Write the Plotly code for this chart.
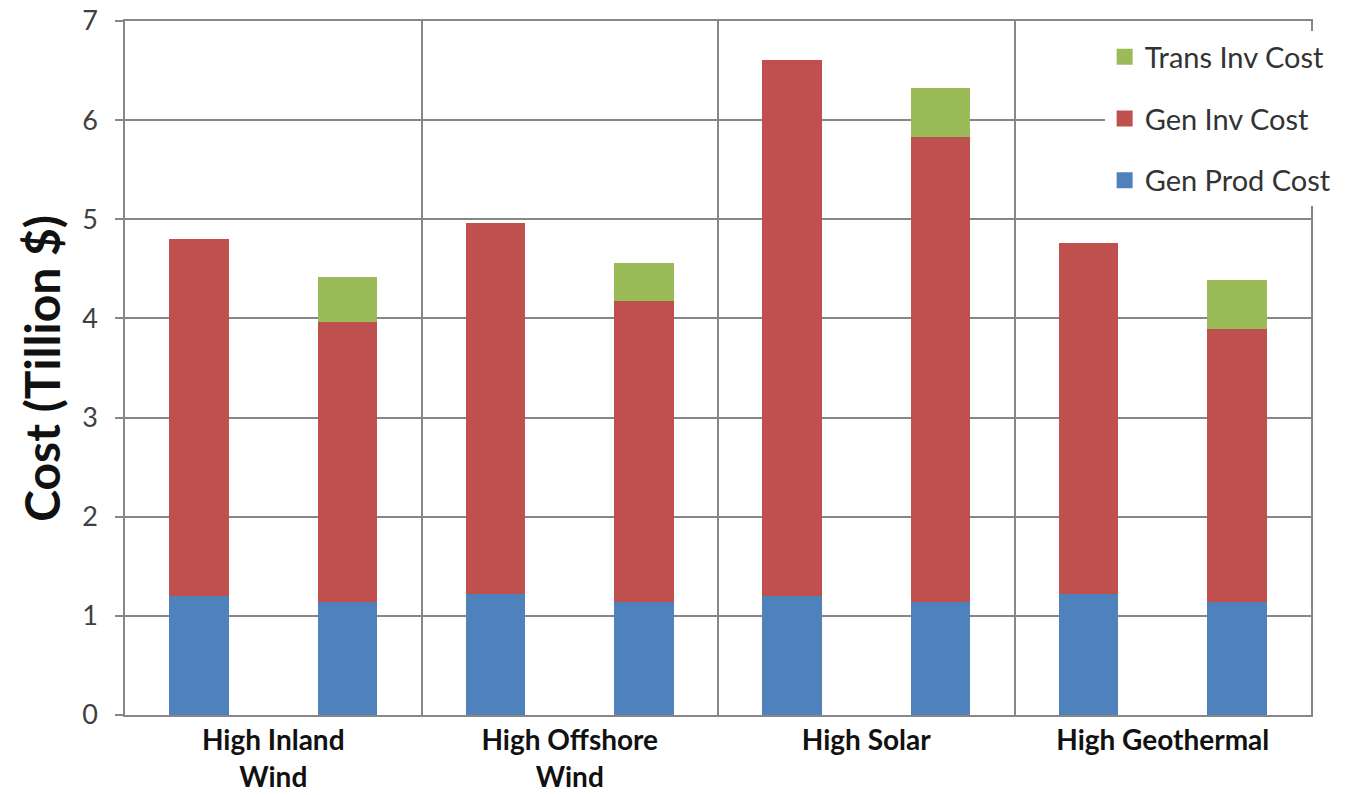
import plotly.graph_objects as go

# ---- data ----
categories = ["High Inland<br>Wind", "High Offshore<br>Wind", "High Solar", "High Geothermal"]
series_names = ["Gen Prod Cost", "Gen Inv Cost", "Trans Inv Cost"]
# two bars per category (without / with transmission investment)
gen_prod = [1.20, 1.14, 1.22, 1.14, 1.20, 1.14, 1.22, 1.14]
gen_inv = [3.60, 2.82, 3.74, 3.04, 5.41, 4.69, 3.54, 2.75]
trans_inv = [0.00, 0.46, 0.00, 0.38, 0.00, 0.49, 0.00, 0.50]
y_ticks = [0, 1, 2, 3, 4, 5, 6, 7]

colors = {"Gen Prod Cost": "#4F81BD", "Gen Inv Cost": "#C0504D", "Trans Inv Cost": "#9BBB59"}
values = {"Gen Prod Cost": gen_prod, "Gen Inv Cost": gen_inv, "Trans Inv Cost": trans_inv}

# bar x positions: two bars per category
offsets = (-0.25, 0.25)
xpos = [i + o for i in range(len(categories)) for o in offsets]

FONT = "Lato"
GRID = "#878787"

fig = go.Figure()
for name in series_names:
    fig.add_trace(go.Bar(
        x=xpos, y=values[name], name=name, width=0.2,
        marker=dict(color=colors[name], line=dict(width=0)),
        showlegend=False,
    ))

# legend proxies (larger square swatches)
for name in ["Trans Inv Cost", "Gen Inv Cost", "Gen Prod Cost"]:
    fig.add_trace(go.Scatter(
        x=[None], y=[None], mode="markers", name=name, legendgroup=name,
        marker=dict(symbol="square", size=16, color=colors[name]),
    ))

fig.update_layout(
    width=1345, height=795,
    margin=dict(l=125, r=34, t=21, b=80, autoexpand=False),
    paper_bgcolor="white", plot_bgcolor="white",
    barmode="stack", bargap=0,
    font=dict(family=FONT, color="#404040"),
    showlegend=True,
    legend=dict(
        x=0.826, y=0.985, xanchor="left", yanchor="top",
        bgcolor="white", borderwidth=0,
        font=dict(family=FONT, size=29, color="#333333"),
        traceorder="grouped", tracegroupgap=21,
        itemsizing="trace",
    ),
    xaxis=dict(
        range=[-0.5, len(categories) - 0.5],
        tickmode="array", tickvals=list(range(len(categories))), ticktext=categories,
        tickfont=dict(family=FONT, size=28, color="#111111", weight="bold"),
        showgrid=False, zeroline=False,
        showline=True, linecolor=GRID, linewidth=1.5, mirror=True,
        ticks="", ticklabelstandoff=0,
        minor=dict(
            tickmode="array",
            tickvals=[i + 0.5 for i in range(len(categories) - 1)],
            showgrid=True, gridcolor=GRID, gridwidth=1.5, ticks="",
        ),
    ),
    yaxis=dict(
        range=[0, 7], tickmode="array", tickvals=y_ticks,
        tickfont=dict(family=FONT, size=27, color="#404040"),
        showgrid=True, gridcolor=GRID, gridwidth=1.5,
        zeroline=False,
        showline=True, linecolor=GRID, linewidth=1.5, mirror=True,
        ticks="outside", ticklen=8, tickcolor=GRID, tickwidth=1.5,
        ticklabelstandoff=12,
    ),
    annotations=[dict(
        text="Cost (Tillion $)", textangle=-90,
        xref="paper", yref="paper", x=-0.071, y=0.5,
        xanchor="center", yanchor="middle", showarrow=False,
        font=dict(family=FONT, size=48, color="#111111", weight="bold"),
    )],
)

fig.write_html("out.html")
